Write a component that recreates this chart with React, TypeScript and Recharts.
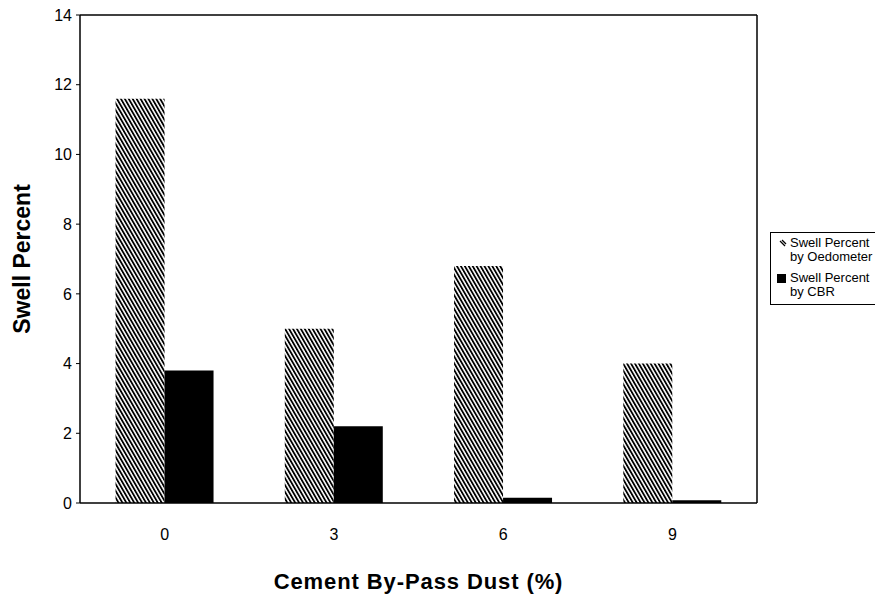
import React from "react";
import { BarChart, Bar, XAxis, YAxis } from "recharts";

const categories = ["0", "3", "6", "9"];
const oedometer = [11.6, 5.0, 6.8, 4.0];
const cbr = [3.8, 2.2, 0.15, 0.08];
const yTicks = [0, 2, 4, 6, 8, 10, 12, 14];

const data = categories.map((c, i) => ({ x: c, oed: oedometer[i], cbr: cbr[i] }));

const FONT = "'Liberation Sans', Arial, sans-serif";

export default function App() {
  return (
    <div style={{ position: "absolute", left: 0, top: 0, width: 875, height: 599, background: "#fff", fontFamily: FONT }}>
      <BarChart
        width={875}
        height={599}
        data={data}
        margin={{ top: 14, right: 117, left: 0, bottom: 0 }}
        barCategoryGap="21%"
        barGap={0}
      >
        <defs>
          <pattern id="hatch" patternUnits="userSpaceOnUse" width="3.4" height="3.4" patternTransform="rotate(-30)">
            <rect x="0" y="0" width="3.4" height="3.4" fill="#fff" />
            <rect x="0" y="0" width="1.8" height="3.4" fill="#000" />
          </pattern>
        </defs>
        <XAxis
          dataKey="x"
          height={96}
          tickLine={false}
          axisLine={{ stroke: "#000", strokeWidth: 1.5 }}
          tick={{ fill: "#000", fontSize: 16, fontFamily: FONT }}
          tickMargin={20}
          label={{
            value: "Cement By-Pass Dust (%)",
            position: "insideBottom",
            offset: 10,
            style: { fill: "#000", fontSize: 22, fontWeight: "bold", fontFamily: FONT, letterSpacing: 0.9 },
          }}
        />
        <XAxis
          xAxisId="top"
          dataKey="x"
          orientation="top"
          height={1}
          tick={false}
          tickLine={false}
          axisLine={{ stroke: "#000", strokeWidth: 1.5 }}
        />
        <YAxis
          yAxisId="l"
          width={80}
          domain={[0, 14]}
          ticks={yTicks}
          interval={0}
          tickSize={4}
          tickMargin={4}
          tickLine={{ stroke: "#000" }}
          axisLine={{ stroke: "#000", strokeWidth: 1.5 }}
          tick={{ fill: "#000", fontSize: 16, fontFamily: FONT }}
          label={{
            value: "Swell Percent",
            angle: -90,
            position: "insideLeft",
            offset: 22,
            style: { fill: "#000", fontSize: 23, fontWeight: "bold", fontFamily: FONT, textAnchor: "middle" },
          }}
        />
        <YAxis
          yAxisId="r"
          orientation="right"
          width={1}
          domain={[0, 14]}
          tick={false}
          tickLine={false}
          axisLine={{ stroke: "#000", strokeWidth: 1.5 }}
        />
        <Bar yAxisId="l" dataKey="oed" fill="url(#hatch)" isAnimationActive={false} />
        <Bar yAxisId="l" dataKey="cbr" fill="#000" isAnimationActive={false} />
      </BarChart>
      <div
        style={{
          position: "absolute",
          left: 770,
          top: 232,
          width: 110,
          border: "1px solid #000",
          borderRight: "none",
          padding: "3px 0 5px 6px",
          fontSize: 13,
          lineHeight: "14px",
          color: "#000",
          background: "#fff",
        }}
      >
        <div style={{ display: "flex", alignItems: "flex-start", marginBottom: 7 }}>
          <svg width="13" height="14" style={{ flex: "none" }}>
            <line x1="3" y1="5" x2="8" y2="10" stroke="#000" strokeWidth="1.2" />
            <line x1="5" y1="4" x2="9" y2="8" stroke="#000" strokeWidth="1.2" />
          </svg>
          <div>
            Swell Percent
            <br />
            by Oedometer
          </div>
        </div>
        <div style={{ display: "flex", alignItems: "flex-start" }}>
          <svg width="13" height="14" style={{ flex: "none" }}>
            <rect x="0" y="3" width="9" height="9" fill="#000" />
          </svg>
          <div>
            Swell Percent
            <br />
            by CBR
          </div>
        </div>
      </div>
    </div>
  );
}
